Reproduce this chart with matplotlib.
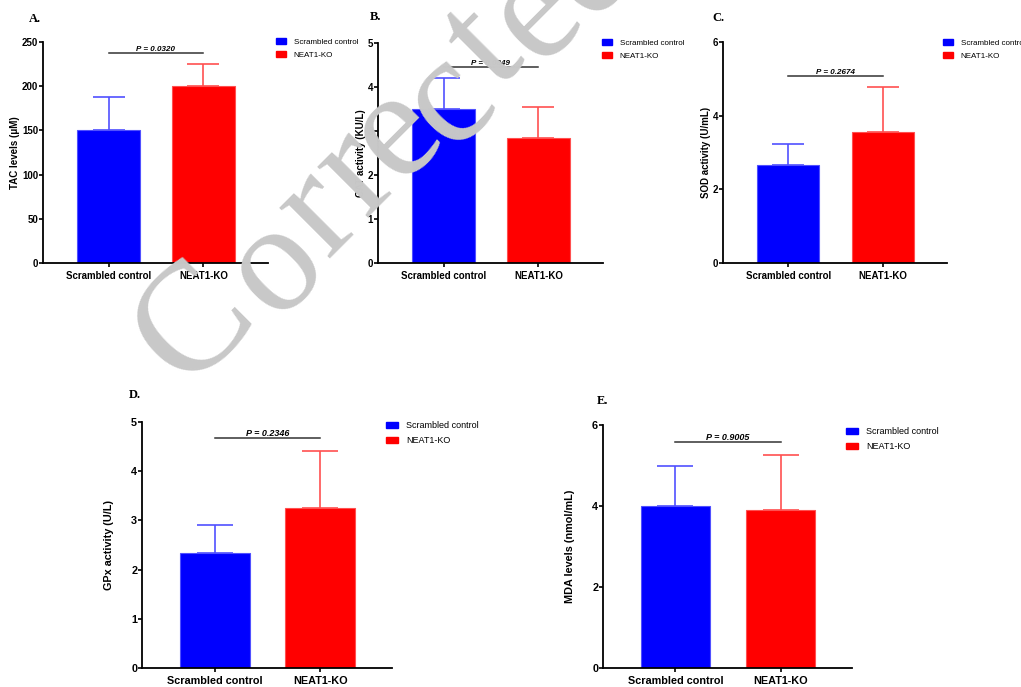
import matplotlib
matplotlib.use('Agg')
import matplotlib.pyplot as plt
from matplotlib.patches import Patch

plt.rcParams['font.family'] = ['Liberation Sans', 'DejaVu Sans']

groups = ['Scrambled control', 'NEAT1-KO']

tac_mean = [150, 200]
tac_sd = [38, 25]
cat_mean = [3.5, 2.85]
cat_sd = [0.7, 0.69]
sod_mean = [2.66, 3.55]
sod_sd = [0.58, 1.24]
gpx_mean = [2.34, 3.25]
gpx_sd = [0.57, 1.17]
mda_mean = [4.0, 3.89]
mda_sd = [1.0, 1.36]

p_values = ['0.0320', '0.0849', '0.2674', '0.2346', '0.9005']
p_line_y = [238, 4.45, 5.09, 4.67, 5.58]

ylabels = ['TAC levels (\u03bcM)', 'CAT activity (KU/L)', 'SOD activity (U/mL)',
           'GPx activity (U/L)', 'MDA levels (nmol/mL)']
yticks = [[0, 50, 100, 150, 200, 250], [0, 1, 2, 3, 4, 5], [0, 2, 4, 6],
          [0, 1, 2, 3, 4, 5], [0, 2, 4, 6]]
letters = ['A.', 'B.', 'C.', 'D.', 'E.']

bar_colors = ['#0000ff', '#ff0000']
err_colors = ['#5050ff', '#ff5050']

W, H = 1021, 687
# axes boxes in pixels: left, top, right, bottom
boxes = [(43, 42, 268, 263), (378, 43, 603, 263), (723, 42, 947, 263),
         (142, 422, 392, 668), (603, 425, 852, 668)]
leg_pos = [(276, 38), (602, 39), (943, 39), (386, 421), (846, 427)]
letter_pos = [(35, 19), (375, 17), (718, 18), (135, 395), (602, 401)]
# bottom row has slightly larger text
scale = [1, 1, 1, 1.12, 1.12]
ylabel_pad = [1, 1, 1, 12, 12]

# watermark letters, pixel centres
wm_text = 'Corrected'
wm_pos = [(195, 325), (275, 266), (319, 213), (357, 172), (396, 132),
          (448, 100), (484, 47), (536, 14), (590, -34)]

fig = plt.figure(figsize=(W / 100, H / 100), dpi=100)

panels = [(tac_mean, tac_sd), (cat_mean, cat_sd), (sod_mean, sod_sd),
          (gpx_mean, gpx_sd), (mda_mean, mda_sd)]

for i, (mean, sd) in enumerate(panels):
    l, t, r, b = boxes[i]
    k = scale[i]
    ax = fig.add_axes([l / W, 1 - b / H, (r - l) / W, (b - t) / H])
    x = [0, 1]
    for j in range(2):
        ax.errorbar(x[j], mean[j], yerr=[[0], [sd[j]]], fmt='none',
                    ecolor=err_colors[j], elinewidth=1.2, capsize=11.5 * k,
                    capthick=1.2, zorder=1)
        ax.bar(x[j], mean[j], width=0.66, color=bar_colors[j],
               edgecolor=err_colors[j], linewidth=0.8, zorder=2)
    ax.set_xlim(-0.69, 1.68)
    ax.set_ylim(0, yticks[i][-1])
    ax.set_yticks(yticks[i])
    ax.set_xticks(x)
    ax.set_xticklabels(groups)
    for s in ['top', 'right']:
        ax.spines[s].set_visible(False)
    for s in ['left', 'bottom']:
        ax.spines[s].set_linewidth(1.3)
    ax.tick_params(labelsize=7 * k, width=1.2, length=3)
    ax.tick_params(axis='y', pad=0.5)
    ax.tick_params(axis='x', pad=2.5)
    for lab in ax.get_xticklabels() + ax.get_yticklabels():
        lab.set_fontweight('bold')
    ax.set_ylabel(ylabels[i], fontsize=7 * k, fontweight='bold', labelpad=ylabel_pad[i])

    ax.plot([0, 1], [p_line_y[i], p_line_y[i]], color='#333333', lw=1.1)
    ax.text(0.5, p_line_y[i], 'P = ' + p_values[i], ha='center', va='bottom',
            fontsize=5.8 * k, fontweight='bold', fontstyle='italic')

    handles = [Patch(color=bar_colors[0]), Patch(color=bar_colors[1])]
    lx, ly = leg_pos[i]
    ax.legend(handles, groups, loc='upper left', bbox_to_anchor=(lx / W, 1 - ly / H),
              bbox_transform=fig.transFigure, frameon=False, fontsize=5.8 * k,
              handlelength=1.3, handleheight=0.7, handletextpad=0.9,
              labelspacing=0.7, borderpad=0, borderaxespad=0)

    px, py = letter_pos[i]
    fig.text(px / W, 1 - py / H, letters[i], ha='center', va='center',
             fontsize=9, fontweight='bold', family='Liberation Serif')

for ch, (cx, cy) in zip(wm_text, wm_pos):
    fig.text(cx / W, 1 - cy / H, ch, ha='center', va='center',
             rotation=45, rotation_mode='anchor', fontsize=112,
             family='Liberation Serif', color='#c8c8c8', zorder=10)

fig.savefig('out.png', dpi=100)
